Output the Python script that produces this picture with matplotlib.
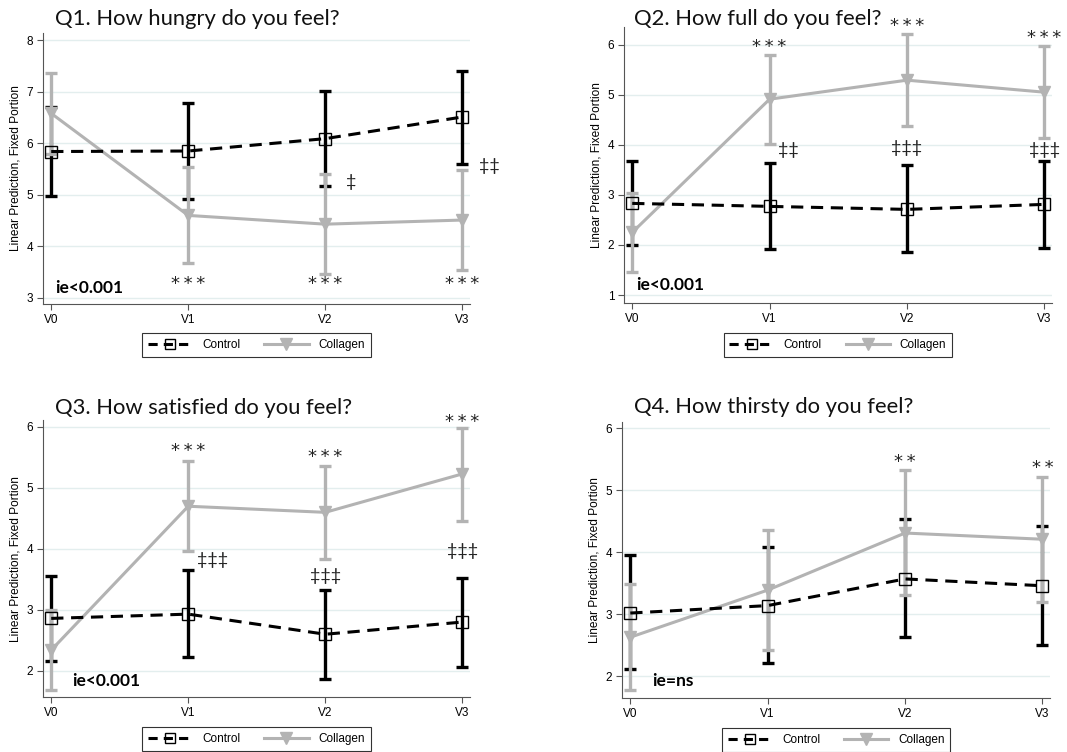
import matplotlib.pyplot as plt
from matplotlib.lines import Line2D

plt.rcParams["font.family"] = ["Liberation Sans", "DejaVu Sans"]

visits = ["V0", "V1", "V2", "V3"]

# Q1 hungry
q1_ctrl = [5.84, 5.85, 6.09, 6.51]
q1_ctrl_lo = [4.98, 4.92, 5.18, 5.60]
q1_ctrl_hi = [6.71, 6.78, 7.01, 7.41]
q1_coll = [6.58, 4.60, 4.43, 4.51]
q1_coll_lo = [5.79, 3.68, 3.46, 3.55]
q1_coll_hi = [7.37, 5.53, 5.40, 5.48]

# Q2 full
q2_ctrl = [2.83, 2.77, 2.71, 2.81]
q2_ctrl_lo = [1.99, 1.92, 1.85, 1.94]
q2_ctrl_hi = [3.67, 3.63, 3.59, 3.68]
q2_coll = [2.25, 4.91, 5.29, 5.05]
q2_coll_lo = [1.47, 4.02, 4.38, 4.14]
q2_coll_hi = [3.03, 5.79, 6.21, 5.97]

# Q3 satisfied
q3_ctrl = [2.86, 2.93, 2.60, 2.80]
q3_ctrl_lo = [2.16, 2.22, 1.87, 2.07]
q3_ctrl_hi = [3.55, 3.66, 3.33, 3.52]
q3_coll = [2.34, 4.70, 4.60, 5.23]
q3_coll_lo = [1.69, 3.97, 3.83, 4.46]
q3_coll_hi = [3.00, 5.44, 5.36, 5.98]

# Q4 thirsty
q4_ctrl = [3.02, 3.14, 3.57, 3.46]
q4_ctrl_lo = [2.11, 2.21, 2.63, 2.50]
q4_ctrl_hi = [3.95, 4.09, 4.54, 4.42]
q4_coll = [2.63, 3.39, 4.31, 4.21]
q4_coll_lo = [1.78, 2.43, 3.31, 3.20]
q4_coll_hi = [3.49, 4.36, 5.33, 5.21]

GRAY = "#b3b3b3"
S3 = "*\u2009*\u2009*"
S2 = "*\u2009*"

panels = [
    dict(title="Q1. How hungry do you feel?", rect=[0.0403, 0.5957, 0.400, 0.3604],
         ylim=(2.88, 8.14), yticks=[3, 4, 5, 6, 7, 8], title_xy=(0.0515, 0.975),
         ctrl=(q1_ctrl, q1_ctrl_lo, q1_ctrl_hi), coll=(q1_coll, q1_coll_lo, q1_coll_hi),
         ie=("ie<0.001", 0.03, 3.2),
         stars=[(1, 3.27, S3), (2, 3.27, S3), (3, 3.27, S3)],
         daggers=[(2.19, 5.25, "‡"), (3.2, 5.56, "‡‡")]),
    dict(title="Q2. How full do you feel?", rect=[0.5848, 0.597, 0.401, 0.367],
         ylim=(0.84, 6.35), yticks=[1, 2, 3, 4, 5, 6], title_xy=(0.594, 0.975),
         ctrl=(q2_ctrl, q2_ctrl_lo, q2_ctrl_hi), coll=(q2_coll, q2_coll_lo, q2_coll_hi),
         ie=("ie<0.001", 0.03, 1.2),
         stars=[(1, 5.95, S3), (2, 6.37, S3), (3, 6.13, S3)],
         daggers=[(1.14, 3.89, "‡‡"), (2, 3.93, "‡‡‡"), (3, 3.9, "‡‡‡")]),
    dict(title="Q3. How satisfied do you feel?", rect=[0.0403, 0.0731, 0.400, 0.368],
         ylim=(1.57, 6.11), yticks=[2, 3, 4, 5, 6], title_xy=(0.0515, 0.457),
         ctrl=(q3_ctrl, q3_ctrl_lo, q3_ctrl_hi), coll=(q3_coll, q3_coll_lo, q3_coll_hi),
         ie=("ie<0.001", 0.15, 1.83),
         stars=[(1, 5.6, S3), (2, 5.5, S3), (3, 6.09, S3)],
         daggers=[(1.18, 3.82, "‡‡‡"), (2, 3.56, "‡‡‡"), (3, 3.96, "‡‡‡")]),
    dict(title="Q4. How thirsty do you feel?", rect=[0.583, 0.0718, 0.401, 0.367],
         ylim=(1.65, 6.10), yticks=[2, 3, 4, 5, 6], title_xy=(0.594, 0.459),
         ctrl=(q4_ctrl, q4_ctrl_lo, q4_ctrl_hi), coll=(q4_coll, q4_coll_lo, q4_coll_hi),
         ie=("ie=ns", 0.16, 1.93),
         stars=[(2, 5.45, S2), (3, 5.36, S2)],
         daggers=[]),
]

fig = plt.figure(figsize=(10.67, 7.52), dpi=100)
x = list(range(len(visits)))

for p in panels:
    ax = fig.add_axes(p["rect"])
    m, lo, hi = p["ctrl"]
    ax.errorbar(x, m, yerr=[[a - b for a, b in zip(m, lo)], [b - a for a, b in zip(m, hi)]],
                fmt="none", ecolor="black", elinewidth=2.4, capsize=4, capthick=2.4, zorder=2)
    cm, clo, chi = p["coll"]
    ax.errorbar(x, cm, yerr=[[a - b for a, b in zip(cm, clo)], [b - a for a, b in zip(cm, chi)]],
                fmt="none", ecolor=GRAY, elinewidth=2.4, capsize=4, capthick=2.4, zorder=3)
    ax.plot(x, cm, color=GRAY, lw=2.2, marker="v", ms=8, mfc=GRAY, mec=GRAY, zorder=4)
    ax.plot(x, m, color="black", lw=2.2, ls=(0, (4, 2.5)), marker="s", ms=8,
            mfc="none", mec="black", mew=1.0, zorder=5)

    ax.set_xlim(-0.06, 3.055)
    ax.set_ylim(*p["ylim"])
    ax.set_xticks(x)
    ax.set_xticklabels(visits)
    ax.set_yticks(p["yticks"])
    ax.tick_params(labelsize=8.5, length=4, color="#555555", pad=3)
    ax.grid(axis="y", color="#e3eeee", lw=1)
    ax.set_axisbelow(True)
    for s in ["top", "right"]:
        ax.spines[s].set_visible(False)
    for s in ["left", "bottom"]:
        ax.spines[s].set_color("#555555")
    ax.set_ylabel("Linear Prediction, Fixed Portion", fontsize=8.6)

    for nx, ny, txt in p["stars"]:
        ax.text(nx, ny, txt, ha="center", va="center", fontsize=13,
                family="DejaVu Sans", color="#222222", clip_on=False)
    for nx, ny, txt in p["daggers"]:
        ax.text(nx, ny, txt, ha="center", va="center", fontsize=13,
                family="Lato", color="#222222", clip_on=False)
    t, ix, iy = p["ie"]
    ax.text(ix, iy, t, ha="left", va="center", fontsize=12.5, fontweight="bold",
            family="Lato", color="black")

    handles = [
        Line2D([], [], color="black", lw=2.2, ls=(0, (3, 2)), marker="s", ms=7,
               mfc="none", mec="black"),
        Line2D([], [], color=GRAY, lw=2.2, marker="v", ms=8, mfc=GRAY, mec=GRAY),
    ]
    leg = ax.legend(handles, ["Control", "Collagen"], loc="center", bbox_to_anchor=(0.5, -0.152),
                    ncol=2, fontsize=8.5, frameon=True, fancybox=False, edgecolor="black",
                    handlelength=3.8, columnspacing=2.0, borderpad=0.5, numpoints=1)
    leg.get_frame().set_linewidth(0.8)

    fig.text(p["title_xy"][0], p["title_xy"][1], p["title"], ha="left", va="center",
             fontsize=15.8, family="Lato", color="#111111")

fig.savefig("out.png", dpi=100)
